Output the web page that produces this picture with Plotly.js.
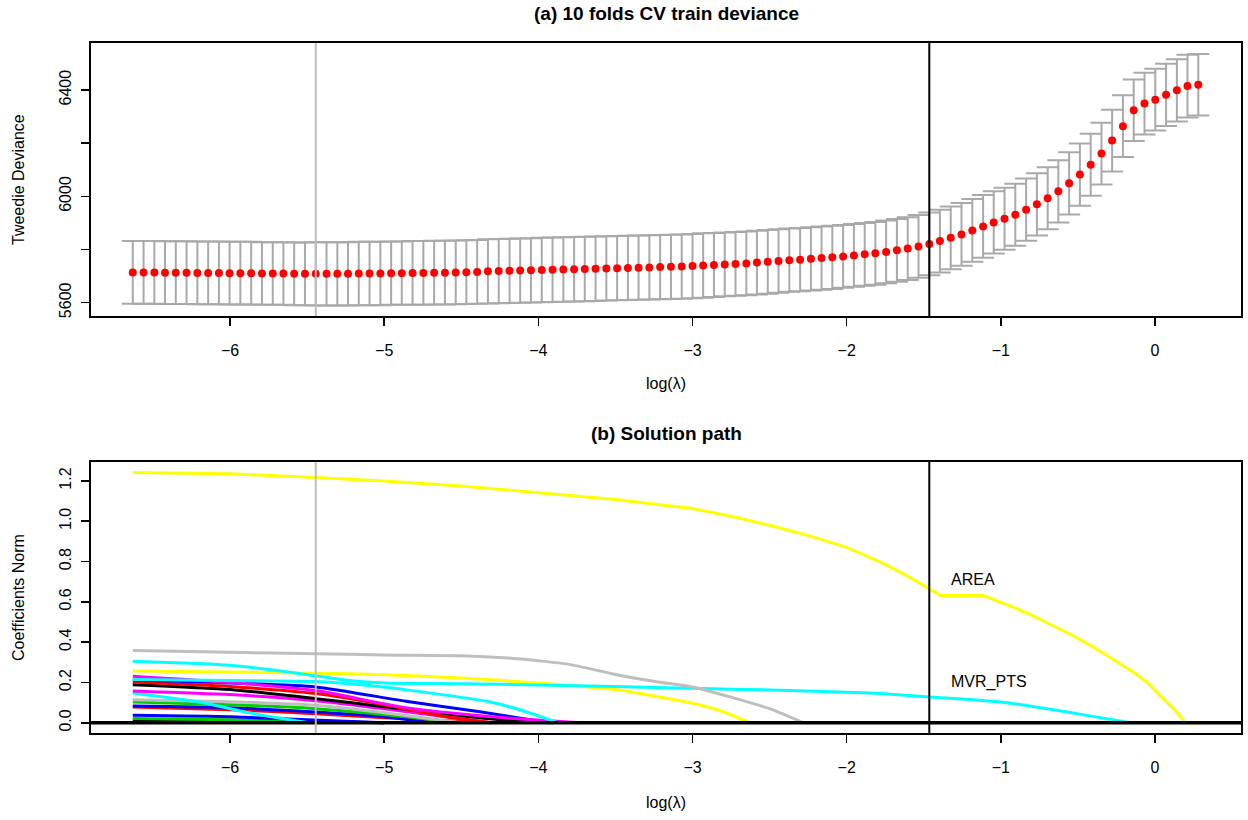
<!DOCTYPE html>
<html>
<head>
<meta charset="utf-8">
<script src="https://cdn.plot.ly/plotly-3.0.1.min.js"></script>
<style>html,body{margin:0;padding:0;background:#fff;}#chart{width:1248px;height:820px;}</style>
</head>
<body>
<div id="chart"></div>
<script>
// ---------- Panel (a): 10-fold CV deviance ----------
const logLambda = [
-6.631,-6.561,-6.491,-6.422,-6.352,-6.282,-6.212,-6.142,-6.072,-6.003,
-5.933,-5.863,-5.793,-5.723,-5.654,-5.584,-5.514,-5.444,-5.374,-5.304,
-5.235,-5.165,-5.095,-5.025,-4.955,-4.886,-4.816,-4.746,-4.676,-4.606,
-4.536,-4.467,-4.397,-4.327,-4.257,-4.187,-4.118,-4.048,-3.978,-3.908,
-3.838,-3.768,-3.699,-3.629,-3.559,-3.489,-3.419,-3.350,-3.280,-3.210,
-3.140,-3.070,-3.000,-2.931,-2.861,-2.791,-2.721,-2.651,-2.582,-2.512,
-2.442,-2.372,-2.302,-2.232,-2.163,-2.093,-2.023,-1.953,-1.883,-1.814,
-1.744,-1.674,-1.604,-1.534,-1.464,-1.395,-1.325,-1.255,-1.185,-1.115,
-1.046,-0.976,-0.906,-0.836,-0.766,-0.696,-0.627,-0.557,-0.487,-0.417,
-0.347,-0.278,-0.208,-0.138,-0.068,0.002,0.072,0.142,0.211,0.281];

const cvMean = [
5714,5714,5714,5713,5713,5713,5712,5712,5712,5711,
5711,5711,5710,5710,5710,5709,5709,5709,5709,5709,
5709,5710,5710,5710,5711,5711,5712,5712,5713,5713,
5714,5715,5716,5718,5719,5720,5721,5722,5723,5724,
5725,5726,5727,5728,5729,5730,5731,5732,5733,5734,
5735,5736,5738,5740,5742,5744,5746,5748,5751,5754,
5757,5760,5762,5765,5768,5771,5774,5778,5782,5786,
5791,5797,5804,5812,5821,5832,5844,5857,5872,5887,
5902,5916,5931,5950,5970,5993,6019,6049,6082,6119,
6161,6210,6264,6324,6349,6364,6382,6399,6415,6420];

const cvSE = [
118,118,118,118,118,118,118,118,118,118,
118,118,118,118,118,118,118,119,119,119,
119,119,119,119,119,119,120,120,120,120,
120,120,120,121,121,121,121,121,121,121,
121,121,121,121,121,121,121,121,121,121,
121,121,121,121,120,120,120,120,120,120,
119,119,119,119,119,119,118,118,118,118,
118,118,118,118,118,118,118,118,118,118,
117,117,117,117,117,117,117,117,117,117,
116,116,116,116,116,116,117,117,118,116];

const lambdaMin = -5.444;   // grey vertical line
const lambda1se = -1.464;   // black vertical line

const xTicks = [-6,-5,-4,-3,-2,-1,0];
const devTicks = [5600,5800,6000,6200,6400];
const devTickText = ['5600','','6000','','6400'];
const coefTicks = [0,0.2,0.4,0.6,0.8,1.0,1.2];
const coefTickText = ['0.0','0.2','0.4','0.6','0.8','1.0','1.2'];

// ---------- Panel (b): coefficient paths (knots) ----------
const areaX = [-6.631,-6,-5.444,-5,-4.5,-4,-3.5,-3,-2.75,-2.5,-2.25,-2,-1.9,-1.78,-1.62,-1.464,-1.39,-1.115,-0.92,-0.79,-0.66,-0.53,-0.40,-0.27,-0.14,-0.05,0.03,0.12,0.2,0.281];
const areaY = [1.242,1.235,1.217,1.200,1.175,1.143,1.108,1.063,1.025,0.980,0.930,0.870,0.838,0.797,0.735,0.665,0.631,0.631,0.574,0.530,0.483,0.432,0.376,0.316,0.252,0.200,0.136,0.070,0,0];
const mvrX = [-6.631,-6,-5.6,-5.2,-5,-4.5,-4,-3.5,-3,-2.5,-2,-1.78,-1.464,-1.2,-1,-0.85,-0.7,-0.44,-0.16];
const mvrY = [0.305,0.285,0.250,0.207,0.198,0.194,0.188,0.180,0.171,0.163,0.152,0.145,0.128,0.116,0.103,0.088,0.070,0.037,0];
const grayAX = [-6.631,-6,-5.444,-5,-4.5,-4.2,-4,-3.8,-3.5,-3.2,-3,-2.74,-2.5,-2.28];
const grayAY = [0.359,0.350,0.343,0.337,0.333,0.322,0.308,0.290,0.240,0.200,0.178,0.125,0.070,0];
const yellowBX = [-6.631,-6,-5.444,-5,-4.5,-4,-3.5,-3,-2.8,-2.63];
const yellowBY = [0.257,0.252,0.246,0.239,0.222,0.198,0.165,0.097,0.055,0];
const cyanBX = [-6.631,-6,-5.444,-5.1,-4.83,-4.31,-4.1,-3.87];
const cyanBY = [0.215,0.210,0.205,0.185,0.161,0.103,0.060,0];
const cyanCX = [-6.631,-6.2,-5.877,-5.585,-5.487];
const cyanCY = [0.148,0.103,0.050,0.012,0];
const blueAX = [-6.631,-6,-5.444,-4.86,-4.38,-3.93];
const blueAY = [0.214,0.198,0.178,0.107,0.055,0];
const magentaAX = [-6.631,-6,-5.444,-4.86,-4.3,-3.73];
const magentaAY = [0.231,0.200,0.160,0.075,0.030,0];
const redAX = [-6.631,-6,-5.444,-5,-4.6,-4.3];
const redAY = [0.202,0.180,0.145,0.090,0.030,0];
const blackAX = [-6.631,-6,-5.444,-5,-4.5,-4.2,-3.9];
const blackAY = [0.189,0.165,0.120,0.080,0.035,0.012,0];
const magentaBX = [-6.631,-6,-5.444,-5,-4.6,-4.3];
const magentaBY = [0.158,0.140,0.110,0.070,0.030,0];
const grayBX = [-6.631,-6,-5.444,-5,-4.5];
const grayBY = [0.115,0.105,0.087,0.050,0];
const greenAX = [-6.631,-6,-5.444,-4.86,-4.53];
const greenAY = [0.103,0.090,0.070,0.030,0];
const blueBX = [-6.631,-6,-5.444,-5,-4.7];
const blueBY = [0.083,0.075,0.054,0.030,0];
const redBX = [-6.631,-6,-5.444,-5,-4.3];
const redBY = [0.078,0.065,0.045,0.025,0];
const blueCX = [-6.631,-6,-5.5,-5];
const blueCY = [0.037,0.030,0.015,0];
const greenBX = [-6.631,-6,-5.444,-5];
const greenBY = [0.021,0.015,0.008,0];
const blackBX = [-6.631,-5.5,-5];
const blackBY = [0.012,0.006,0];

const labelArea = 'AREA';
const labelMvr = 'MVR_PTS';

// ---------- build ----------
const FONT = 'Liberation Sans, Arial, Helvetica, sans-serif';
const FS = 16;
const traces = [];
traces.push({
  x: logLambda, y: cvMean, type: 'scatter', mode: 'markers',
  xaxis: 'x', yaxis: 'y',
  marker: {color: '#FF0000', size: 8},
  error_y: {type: 'data', array: cvSE, visible: true, color: '#A9A9A9', thickness: 2, width: 11},
  hoverinfo: 'x+y'
});

const paths = [
  [blackBX, blackBY, '#000000'],
  [greenBX, greenBY, '#00CD00'],
  [blueCX, blueCY, '#0000FF'],
  [redBX, redBY, '#FF0000'],
  [blueBX, blueBY, '#0000FF'],
  [greenAX, greenAY, '#00CD00'],
  [grayBX, grayBY, '#BEBEBE'],
  [cyanCX, cyanCY, '#00FFFF'],
  [magentaBX, magentaBY, '#FF00FF'],
  [blackAX, blackAY, '#000000'],
  [redAX, redAY, '#FF0000'],
  [blueAX, blueAY, '#0000FF'],
  [magentaAX, magentaAY, '#FF00FF'],
  [cyanBX, cyanBY, '#00FFFF'],
  [yellowBX, yellowBY, '#FFFF00'],
  [mvrX, mvrY, '#00FFFF'],
  [grayAX, grayAY, '#BEBEBE'],
  [areaX, areaY, '#FFFF00']
];
paths.forEach(p => traces.push({
  x: p[0], y: p[1], type: 'scatter', mode: 'lines', xaxis: 'x2', yaxis: 'y2',
  line: {color: p[2], width: 3, shape: (p[0] === areaX ? 'linear' : 'spline'), smoothing: 0.6},
  hoverinfo: 'skip'
}));

const xRange = [-6.902, 0.558];
function xAxis(anchor) {
  return {
    anchor: anchor, domain: [0, 1], range: xRange, tickvals: xTicks,
    ticks: 'outside', ticklen: 8, tickwidth: 1.5, tickcolor: '#000',
    showline: true, mirror: true, linecolor: '#000', linewidth: 2,
    showgrid: false, zeroline: false, ticklabelstandoff: 11,
    tickfont: {family: FONT, size: FS, color: '#000'}
  };
}
function yAxis(anchor, domain, range, vals, text) {
  return {
    anchor: anchor, domain: domain, range: range, tickvals: vals, ticktext: text,
    tickangle: -90, ticks: 'outside', ticklen: 8, tickwidth: 1.5, tickcolor: '#000',
    showline: true, mirror: true, linecolor: '#000', linewidth: 2,
    showgrid: false, zeroline: false, ticklabelstandoff: 4,
    tickfont: {family: FONT, size: FS, color: '#000'}
  };
}

const topDom = [0.6043, 1];
const botDom = [0, 0.3928];

const shapes = [
  {type: 'line', xref: 'x', yref: 'y domain', x0: lambdaMin, x1: lambdaMin, y0: 0, y1: 1, line: {color: '#BEBEBE', width: 2}, layer: 'above'},
  {type: 'line', xref: 'x', yref: 'y domain', x0: lambda1se, x1: lambda1se, y0: 0, y1: 1, line: {color: '#000', width: 2}, layer: 'above'},
  {type: 'line', xref: 'x2 domain', yref: 'y2', x0: 0, x1: 1, y0: 0, y1: 0, line: {color: '#000', width: 3.5}, layer: 'above'},
  {type: 'line', xref: 'x2', yref: 'y2 domain', x0: lambdaMin, x1: lambdaMin, y0: 0, y1: 1, line: {color: '#BEBEBE', width: 2}, layer: 'above'},
  {type: 'line', xref: 'x2', yref: 'y2 domain', x0: lambda1se, x1: lambda1se, y0: 0, y1: 1, line: {color: '#000', width: 2}, layer: 'above'}
];

const ann = (text, x, y, opts) => Object.assign({
  text: text, x: x, y: y, xref: 'paper', yref: 'paper', showarrow: false,
  font: {family: FONT, size: FS, color: '#000'}, xanchor: 'center', yanchor: 'middle'
}, opts || {});

const annotations = [
  ann('<b>(a) 10 folds CV train deviance</b>', 0.5, (733 - 14) / 690, {font: {family: FONT, size: 19, color: '#000'}}),
  ann('<b>(b) Solution path</b>', 0.5, (733 - 433) / 690, {font: {family: FONT, size: 19, color: '#000'}}),
  ann('log(λ)', 0.5, (733 - 383) / 690),
  ann('log(λ)', 0.5, (733 - 802) / 690),
  ann('Tweedie Deviance', (18 - 91) / 1150, (733 - 180) / 690, {textangle: -90}),
  ann('Coefficients Norm', (18 - 91) / 1150, (733 - 598) / 690, {textangle: -90}),
  {text: labelArea, x: -1.336, y: 0.709, xref: 'x2', yref: 'y2', showarrow: false, xanchor: 'left', yanchor: 'middle', font: {family: FONT, size: FS, color: '#000'}},
  {text: labelMvr, x: -1.336, y: 0.203, xref: 'x2', yref: 'y2', showarrow: false, xanchor: 'left', yanchor: 'middle', font: {family: FONT, size: FS, color: '#000'}}
];

const layout = {
  width: 1248, height: 820,
  margin: {l: 91, r: 7, t: 43, b: 87},
  paper_bgcolor: '#fff', plot_bgcolor: '#fff',
  showlegend: false,
  xaxis: xAxis('y'),
  yaxis: yAxis('x', topDom, [5550, 6577], devTicks, devTickText),
  xaxis2: xAxis('y2'),
  yaxis2: yAxis('x2', botDom, [-0.0505, 1.294], coefTicks, coefTickText),
  shapes: shapes,
  annotations: annotations
};

Plotly.newPlot('chart', traces, layout, {displayModeBar: false, staticPlot: true});
</script>
</body>
</html>
